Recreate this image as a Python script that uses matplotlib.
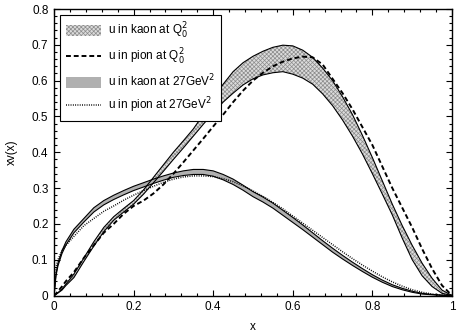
import matplotlib
matplotlib.use('Agg')
import matplotlib.pyplot as plt
from matplotlib.patches import Patch
from matplotlib.lines import Line2D
from matplotlib.ticker import MultipleLocator

plt.rcParams['font.family'] = ['Liberation Sans', 'DejaVu Sans']
plt.rcParams['hatch.linewidth'] = 0.5
plt.rcParams['hatch.color'] = '#8c8c8c'

# x-Werte (gemeinsam fuer alle Kurven)
x = [0, 0.005, 0.01, 0.02, 0.03, 0.05, 0.075, 0.1, 0.125, 0.15,
     0.175, 0.2, 0.225, 0.25, 0.275, 0.3, 0.325, 0.35, 0.375, 0.4,
     0.425, 0.45, 0.475, 0.5, 0.525, 0.55, 0.575, 0.6, 0.625, 0.65,
     0.675, 0.7, 0.725, 0.75, 0.775, 0.8, 0.825, 0.85, 0.875, 0.9,
     0.925, 0.95, 0.975, 1.0]

# u in kaon bei Q0^2 (Band)
kaon_q0_hi = [0, 0.004, 0.008, 0.018, 0.032, 0.06, 0.105, 0.15, 0.19, 0.22,
              0.243, 0.265, 0.295, 0.33, 0.365, 0.40, 0.432, 0.465, 0.505, 0.55,
              0.59, 0.625, 0.65, 0.668, 0.682, 0.693, 0.699, 0.697, 0.685, 0.665,
              0.635, 0.60, 0.555, 0.505, 0.447, 0.385, 0.32, 0.255, 0.195, 0.14,
              0.09, 0.048, 0.015, 0]
kaon_q0_lo = [0, 0.003, 0.007, 0.015, 0.028, 0.05, 0.095, 0.138, 0.178, 0.21,
              0.233, 0.255, 0.283, 0.315, 0.347, 0.38, 0.412, 0.445, 0.478, 0.51,
              0.54, 0.565, 0.588, 0.605, 0.616, 0.622, 0.625, 0.618, 0.607, 0.59,
              0.563, 0.53, 0.49, 0.445, 0.395, 0.34, 0.283, 0.225, 0.16, 0.10,
              0.055, 0.025, 0.006, 0]

# u in pion bei Q0^2
pion_q0 = [0, 0.005, 0.012, 0.025, 0.04, 0.065, 0.105, 0.14, 0.175, 0.2,
           0.228, 0.25, 0.265, 0.285, 0.31, 0.34, 0.372, 0.405, 0.438, 0.472,
           0.505, 0.54, 0.572, 0.60, 0.622, 0.64, 0.653, 0.662, 0.667, 0.665,
           0.645, 0.605, 0.565, 0.52, 0.47, 0.42, 0.36, 0.30, 0.245, 0.19,
           0.13, 0.075, 0.028, 0]

# u in kaon bei 27 GeV^2 (Band)
kaon_27_hi = [0, 0.06, 0.09, 0.125, 0.15, 0.185, 0.215, 0.245, 0.265, 0.28,
              0.293, 0.305, 0.315, 0.325, 0.334, 0.342, 0.348, 0.352, 0.352, 0.348,
              0.338, 0.325, 0.308, 0.29, 0.275, 0.258, 0.238, 0.218, 0.197, 0.175,
              0.153, 0.132, 0.112, 0.093, 0.075, 0.058, 0.043, 0.03, 0.02, 0.012,
              0.006, 0.003, 0.001, 0]
kaon_27_lo = [0, 0.055, 0.083, 0.117, 0.141, 0.175, 0.205, 0.233, 0.253, 0.268,
              0.281, 0.293, 0.303, 0.313, 0.322, 0.33, 0.335, 0.338, 0.338, 0.333,
              0.323, 0.31, 0.294, 0.276, 0.261, 0.244, 0.224, 0.204, 0.184, 0.163,
              0.142, 0.121, 0.102, 0.084, 0.067, 0.051, 0.037, 0.025, 0.016, 0.009,
              0.004, 0.002, 0.0005, 0]

# u in pion bei 27 GeV^2
pion_27 = [0, 0.08, 0.1, 0.125, 0.14, 0.165, 0.195, 0.215, 0.235, 0.25,
           0.266, 0.28, 0.293, 0.305, 0.316, 0.325, 0.331, 0.334, 0.334, 0.332,
           0.326, 0.318, 0.306, 0.292, 0.277, 0.26, 0.242, 0.222, 0.202, 0.182,
           0.162, 0.142, 0.122, 0.103, 0.085, 0.068, 0.052, 0.038, 0.026, 0.016,
           0.009, 0.004, 0.001, 0]

labels = ['u in kaon at Q$_0^2$', 'u in pion at Q$_0^2$',
          'u in kaon at 27GeV$^2$', 'u in pion at 27GeV$^2$']

xticks = [0, 0.2, 0.4, 0.6, 0.8, 1.0]
xticklabels = ['0', '0.2', '0.4', '0.6', '0.8', '1']
yticks = [0, 0.1, 0.2, 0.3, 0.4, 0.5, 0.6, 0.7, 0.8]
yticklabels = ['0', '0.1', '0.2', '0.3', '0.4', '0.5', '0.6', '0.7', '0.8']

fig = plt.figure(figsize=(4.57, 3.36), dpi=100)
ax = fig.add_axes([54 / 457, 1 - 295.5 / 336, 398 / 457, 286.5 / 336])

hatch_face = '#dcdcdc'
hatch_style = 'xxxxxxxx'
band_gray = '#b0b0b0'

# Kaon Q0 Band (schraffiert)
ax.fill_between(x, kaon_q0_lo, kaon_q0_hi, facecolor=hatch_face, hatch=hatch_style,
                edgecolor='#8c8c8c', linewidth=0)
ax.plot(x, kaon_q0_hi, color='black', lw=0.8)
ax.plot(x, kaon_q0_lo, color='black', lw=0.8)

ax.plot(x, pion_q0, color='black', lw=1.4, ls=(0, (2.5, 1.5)))

# Kaon 27 GeV^2 Band
ax.fill_between(x, kaon_27_lo, kaon_27_hi, facecolor=band_gray, linewidth=0)
ax.plot(x, kaon_27_hi, color='black', lw=0.8)
ax.plot(x, kaon_27_lo, color='black', lw=0.8)

ax.plot(x, pion_27, color='black', lw=1.1, ls=(0, (0.6, 0.9)))

ax.set_xlim(0, 1)
ax.set_ylim(0, 0.8)
ax.set_xticks(xticks)
ax.set_xticklabels(xticklabels, fontsize=8.5)
ax.set_yticks(yticks)
ax.set_yticklabels(yticklabels, fontsize=8.5)
ax.xaxis.set_minor_locator(MultipleLocator(0.04))
ax.yaxis.set_minor_locator(MultipleLocator(0.02))
ax.tick_params(which='both', direction='in', top=True, right=True, width=0.8)
ax.tick_params(which='major', length=4, pad=4)
ax.tick_params(which='minor', length=2.5)
for s in ax.spines.values():
    s.set_linewidth(1.0)

ax.set_xlabel('x', fontsize=8.5, labelpad=6)
ax.set_ylabel('xv(x)', fontsize=8.5, labelpad=10)

handles = [Patch(facecolor=hatch_face, hatch=hatch_style, edgecolor='#8c8c8c', linewidth=0),
           Line2D([], [], color='black', lw=1.4, ls=(0, (2.5, 1.5))),
           Patch(facecolor=band_gray, linewidth=0),
           Line2D([], [], color='black', lw=1.1, ls=(0, (0.6, 0.9)))]
leg = ax.legend(handles, labels, loc='upper left', bbox_to_anchor=(0.015, 0.979),
                borderaxespad=0, fontsize=8.5, fancybox=False, framealpha=1,
                edgecolor='black', handlelength=3.0, handleheight=1.0,
                labelspacing=0.5, borderpad=0.5, handletextpad=0.6)
leg.get_frame().set_linewidth(0.8)

fig.savefig('out.png', dpi=100)
